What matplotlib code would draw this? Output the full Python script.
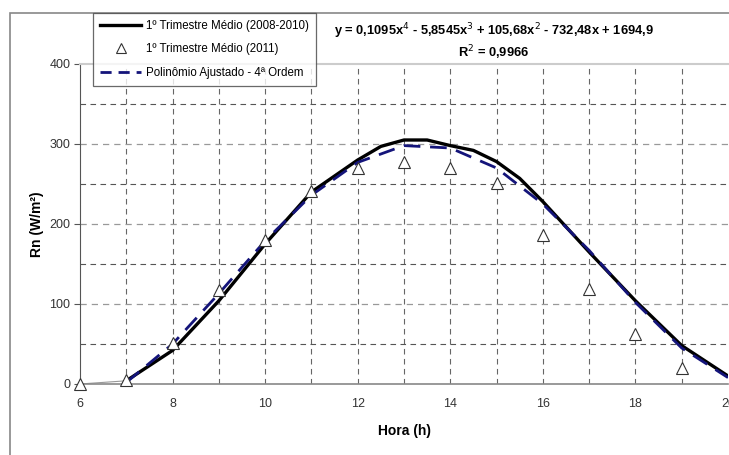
import matplotlib
matplotlib.use("Agg")
import matplotlib.pyplot as plt
from matplotlib.patches import Rectangle
from matplotlib.lines import Line2D

plt.rcParams['font.family'] = ['Liberation Sans', 'DejaVu Sans']

# hours
hora = [6, 7, 8, 9, 10, 11, 12, 12.5, 13, 13.5, 14, 14.5, 15, 15.5, 16, 17, 18, 19, 20]

# 1o trimestre medio 2008-2010 (solid black)
media_0810 = [0, 4, 42, 104, 175, 240, 280, 297, 305, 305, 298, 292, 278, 257, 228, 165, 104, 48, 10]

# 1o trimestre medio 2011 (triangles)
hora_2011 = [6, 7, 8, 9, 10, 11, 12, 13, 14, 15, 16, 17, 18, 19]
media_2011 = [0, 5, 51, 117, 180, 241, 270, 278, 270, 251, 186, 119, 62, 20]

# fitted 4th order polynomial (dashed navy)
hora_fit = [7, 8, 9, 10, 11, 12, 13, 14, 15, 16, 17, 18, 19, 20]
ajuste = [2, 50, 113, 179, 236, 277, 298, 295, 270, 225, 167, 102, 45, 8]

equacao = "y = 0,1095x$^4$ - 5,8545x$^3$ + 105,68x$^2$ - 732,48x + 1694,9"
r2 = "R$^2$ = 0,9966"

W, H = 729, 455
fig = plt.figure(figsize=(W / 100, H / 100), dpi=100)
ax = fig.add_axes([80 / W, 1 - 384 / H, 648 / W, (384 - 64) / H])

# outer frame
fig.patches.append(Rectangle((10 / W, -0.1), 1.2, 1.1 - 13 / H,
                             transform=fig.transFigure, fill=False,
                             edgecolor='#888888', lw=1.2))

# grid
for h in range(7, 20):
    ax.axvline(h, color='#666666', lw=0.8, ls=(0, (5, 4)), zorder=1)
for v in [50, 150, 250, 350]:
    ax.axhline(v, color='#555555', lw=0.8, ls=(0, (5, 4)), zorder=1)
for v in [100, 200, 300]:
    ax.axhline(v, color='#999999', lw=0.9, ls=(0, (5, 4)), zorder=1)

# lines
ax.plot(hora[:2], media_0810[:2], color='#999999', lw=0.8, zorder=2)
ax.plot(hora[1:], media_0810[1:], color='black', lw=2.4, zorder=3,
        solid_joinstyle='round')
ax.plot(hora_fit, ajuste, color='#14147a', lw=2.0, ls=(0, (6, 3.5)), zorder=4)
ax.plot(hora_2011, media_2011, ls='none', marker='^', ms=9, mfc='white',
        mec='#333333', mew=0.8, zorder=5, clip_on=False)

ax.set_xlim(6, 20)
ax.set_ylim(0, 400)
ax.set_xticks(range(6, 21, 2))
ax.set_yticks(range(0, 401, 100))
ax.tick_params(axis='x', length=0, pad=10, labelsize=9, labelcolor='#333333')
ax.tick_params(axis='y', length=4, width=0.8, color='#555555', pad=3,
               labelsize=9, labelcolor='#333333')

ax.spines['right'].set_visible(False)
ax.spines['top'].set_color('#cccccc')
ax.spines['top'].set_linewidth(1.5)
ax.spines['left'].set_color('#555555')
ax.spines['bottom'].set_color('#888888')
ax.spines['bottom'].set_linewidth(1.2)

ax.set_xlabel("Hora (h)", fontsize=10, fontweight='bold', labelpad=10)
ax.set_ylabel("Rn (W/m²)", fontsize=10, fontweight='bold', labelpad=4)

fig.text(494 / W, 1 - 31 / H, equacao, ha='center', va='center',
         fontsize=9.3, fontweight='bold')
fig.text(494 / W, 1 - 53 / H, r2, ha='center', va='center',
         fontsize=9.3, fontweight='bold')

handles = [Line2D([], [], color='black', lw=2.4),
           Line2D([], [], ls='none', marker='^', ms=7, mfc='white', mec='#333333', mew=0.8),
           Line2D([], [], color='#14147a', lw=2.0, ls=(0, (4, 2.5)))]
labels = ["1º Trimestre Médio (2008-2010)", "1º Trimestre Médio (2011)",
          "Polinômio Ajustado - 4ª Ordem"]
leg = fig.legend(handles, labels, loc='upper left',
                 bbox_to_anchor=(93 / W, 1 - 13 / H), borderaxespad=0,
                 fontsize=8.3, frameon=True, fancybox=False, handlelength=3.6,
                 borderpad=0.6, labelspacing=1.0, handletextpad=0.4)
leg.get_frame().set_edgecolor('#444444')
leg.get_frame().set_linewidth(0.9)

fig.savefig("out.png", dpi=100)
